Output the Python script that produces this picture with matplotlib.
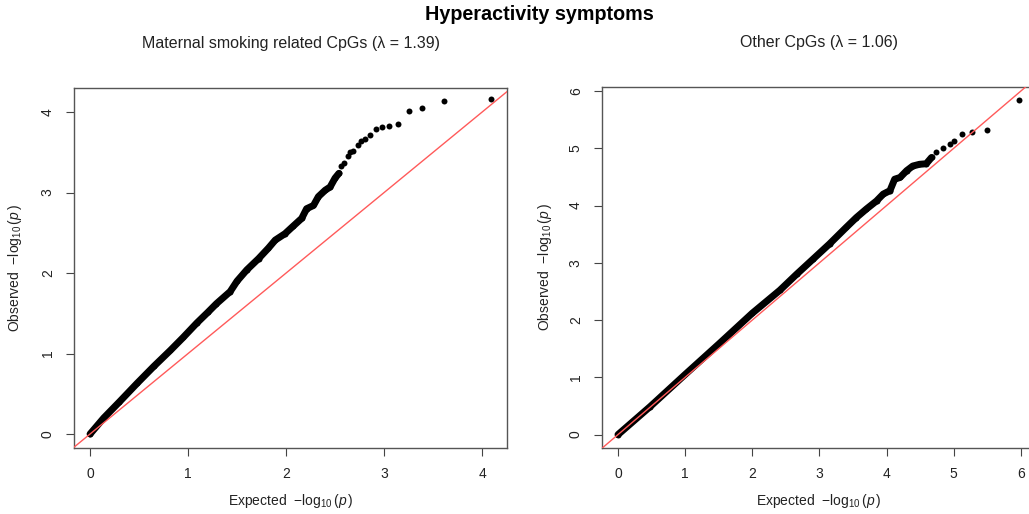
import matplotlib
matplotlib.use('Agg')
import matplotlib.pyplot as plt

# ---------------- data ----------------
title_main = "Hyperactivity symptoms"
title_left = "Maternal smoking related CpGs (λ = 1.39)"
title_right = "Other CpGs (λ = 1.06)"

# Left panel: dense body of the QQ curve
left_dense_exp = [0.00, 0.14, 0.30, 0.48, 0.65, 0.82, 0.95, 1.09, 1.20, 1.29, 1.43,
                  1.50, 1.60, 1.72, 1.82, 1.89, 1.99, 2.07, 2.16, 2.21, 2.28, 2.33,
                  2.40, 2.45, 2.50, 2.54]
left_dense_obs = [0.00, 0.20, 0.40, 0.63, 0.84, 1.04, 1.20, 1.38, 1.51, 1.62, 1.77,
                  1.90, 2.04, 2.18, 2.31, 2.41, 2.49, 2.58, 2.68, 2.80, 2.84, 2.95,
                  3.03, 3.07, 3.18, 3.24]
# Left panel: sparse upper tail points
left_tail_exp = [2.56, 2.59, 2.63, 2.65, 2.68, 2.73, 2.77, 2.81, 2.86, 2.92, 2.98,
                 3.05, 3.14, 3.25, 3.39, 3.61, 4.09]
left_tail_obs = [3.33, 3.37, 3.45, 3.51, 3.52, 3.59, 3.64, 3.67, 3.71, 3.79, 3.81,
                 3.83, 3.855, 4.02, 4.05, 4.14, 4.16]

# Right panel: dense body
right_dense_exp = [0.00, 0.48, 1.00, 1.50, 2.00, 2.41, 2.66, 2.91, 3.15, 3.40, 3.55,
                   3.70, 3.85, 3.95, 4.05, 4.12, 4.20, 4.30, 4.39, 4.49, 4.59, 4.67]
right_dense_obs = [0.00, 0.49, 1.05, 1.58, 2.12, 2.52, 2.80, 3.07, 3.33, 3.62, 3.79,
                   3.94, 4.08, 4.20, 4.26, 4.46, 4.49, 4.61, 4.69, 4.72, 4.73, 4.84]
# Right panel: sparse tail
right_tail_exp = [4.74, 4.84, 4.94, 5.01, 5.12, 5.27, 5.50, 5.97]
right_tail_obs = [4.94, 5.00, 5.08, 5.13, 5.25, 5.28, 5.32, 5.84]

left_xticks = [0, 1, 2, 3, 4]
left_yticks = [0, 1, 2, 3, 4]
right_xticks = [0, 1, 2, 3, 4, 5, 6]
right_yticks = [0, 1, 2, 3, 4, 5, 6]

# ---------------- styling ----------------
plt.rcParams['font.family'] = ['Liberation Sans', 'DejaVu Sans']
plt.rcParams['mathtext.fontset'] = 'custom'
plt.rcParams['mathtext.rm'] = 'Liberation Sans'
plt.rcParams['mathtext.it'] = 'Liberation Sans:italic'
plt.rcParams['mathtext.default'] = 'rm'

W, H = 1029, 514
fig = plt.figure(figsize=(W / 100, H / 100), dpi=100)

ax1 = fig.add_axes([74 / W, 66 / H, 433 / W, 360 / H])
ax2 = fig.add_axes([602 / W, 66 / H, 433 / W, 361 / H])


def style(ax, dx, dy, tx, ty, xlim, ylim, sub, sub_y, ylab_x):
    ex = dx[0] + dx[2]
    ob = dy[0] + dy[2]
    ax.plot(dx[0], dy[0], '-', color='black', lw=5, solid_capstyle='round',
            solid_joinstyle='round', zorder=2)
    ax.plot(ex, ob, 'o', color='black', ms=4.3, mec='none', zorder=2)
    ax.axline((0, 0), slope=1, color='#ff5a5a', lw=1.0, zorder=3)
    ax.set_xlim(*xlim)
    ax.set_ylim(*ylim)
    ax.set_xticks(tx)
    ax.set_yticks(ty)
    ax.tick_params(direction='out', length=5.8, width=0.8, color='#444444',
                   labelsize=10, pad=8, labelcolor='#222222')
    ax.tick_params(axis='y', labelrotation=90)
    for lab in ax.get_yticklabels():
        lab.set_va('center')
    for s in ax.spines.values():
        s.set_color('#555555')
        s.set_linewidth(1.0)
    ax.set_xlabel(r'Expected  $-\log_{10}(\mathit{p}\,)$', fontsize=10, color='#222222')
    ax.xaxis.set_label_coords(0.5, -0.147)
    ax.xaxis.label.set_va('center')
    ax.set_ylabel(r'Observed  $-\log_{10}(\mathit{p}\,)$', fontsize=10, color='#222222')
    ax.yaxis.set_label_coords(ylab_x, 0.5)
    ax.yaxis.label.set_va('center')
    ax.set_title(sub, y=sub_y, pad=0, va='center', fontsize=11.5, color='#222222')


style(ax1, (left_dense_exp, None, left_tail_exp), (left_dense_obs, None, left_tail_obs),
      left_xticks, left_yticks, (-0.164, 4.255), (-0.174, 4.30), title_left, 1.125, -0.136)
style(ax2, (right_dense_exp, None, right_tail_exp), (right_dense_obs, None, right_tail_obs),
      right_xticks, right_yticks, (-0.238, 6.21), (-0.234, 6.07), title_right, 1.122, -0.132)

fig.text(539 / W, 1 - 14 / H, title_main, ha='center', va='center',
         fontsize=14.2, fontweight='bold', color='black')

fig.savefig('out.png', dpi=100)
